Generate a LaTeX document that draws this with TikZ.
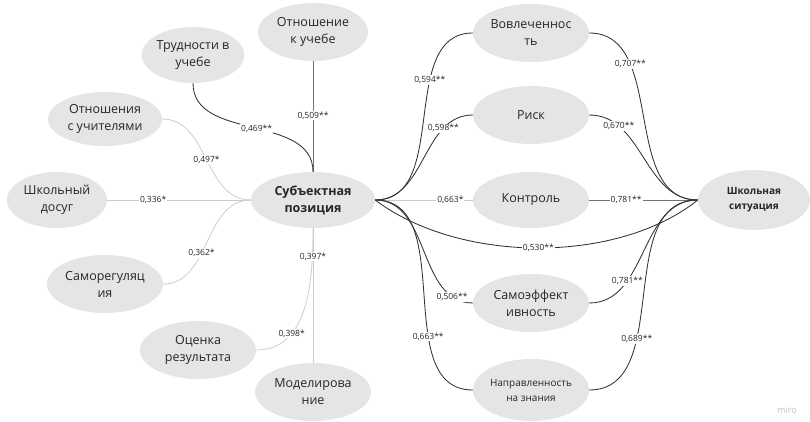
\documentclass[tikz,border=0pt]{standalone}
\usepackage{fontspec}
\setmainfont{Open Sans}
\usetikzlibrary{shapes.geometric}
\begin{document}
\begin{tikzpicture}[x=1pt,y=-1pt,
  el/.style={ellipse, fill=black!10, inner sep=0pt, align=center,
    minimum width=116, minimum height=58, text=black!85,
    font=\fontsize{12.5}{17}\selectfont},
  elb/.style={el, font=\fontsize{12.5}{17}\selectfont\bfseries},
  lbl/.style={fill=white, inner sep=1pt, text=black!85,
    font=\fontsize{8.5}{10}\selectfont},
  dark/.style={draw=black!80, line width=0.85pt},
  mid/.style={draw=black!55, line width=0.85pt},
  light/.style={draw=black!20, line width=0.8pt}]
\useasboundingbox (0,0) rectangle (810,422);

% left side nodes
\node[el, minimum width=110] (ot) at (313,32) {Отношение\\к учебе};
\node[el, minimum width=94, minimum height=56] (tr) at (193,55) {Трудности в\\учебе};
\node[el, minimum width=114, minimum height=54] (ou) at (105,119) {Отношения\\с учителями};
\node[el, minimum width=100, minimum height=56] (dos) at (57,200) {Школьный\\досуг};
\node[elb, minimum width=124, minimum height=56] (sp) at (313,200) {Субъектная\\позиция};
\node[el] (sr) at (105,284) {Саморегуляц\\ия};
\node[el] (oc) at (198,350) {Оценка\\результата};
\node[el] (mod) at (313,392) {Моделирова\\ние};

% right side nodes
\node[el] (vov) at (531,33) {Вовлеченнос\\ть};
\node[el] (risk) at (531,115) {Риск};
\node[el, minimum height=56] (kon) at (531,200) {Контроль};
\node[el] (sam) at (531,303) {Самоэффект\\ивность};
\node[el, minimum height=62, font=\fontsize{10}{15}\selectfont] (nap) at (531,390) {Направленность\\на знания};
\node[elb, minimum width=112, minimum height=60, font=\fontsize{10}{15}\selectfont\bfseries] (ss) at (754,200) {Школьная\\ситуация};

\node[text=black!25, font=\fontsize{9}{10}\selectfont] (miro) at (787,410) {miro};

% left edges
\draw[mid] (ot.south) -- node[lbl,pos=.49]{0,509**} (sp.north);
\draw[dark] (tr.south) to[out=-90,in=90] node[lbl,pos=.52]{0,469**} (sp.north);
\draw[light] (ou.east) to[out=0,in=180] node[lbl,pos=.5]{0,497*} (sp.west);
\draw[light] (dos.east) -- node[lbl,pos=.32]{0,336*} (sp.west);
\draw[light] (sr.east) to[out=0,in=180] node[lbl,pos=.41]{0,362*} (sp.west);
\draw[light] (oc.east) to[out=0,in=-90] node[lbl,pos=.3]{0,398*} (sp.south);
\draw[light] (mod.north) -- node[lbl,pos=.79]{0,397*} (sp.south);

% right edges from Субъектная позиция
\draw[dark] (sp.east) to[out=0,in=180] node[lbl,pos=.65]{0,594**} (vov.west);
\draw[dark] (sp.east) to[out=0,in=180] node[lbl,pos=.75]{0,598**} (risk.west);
\draw[light] (sp.east) -- node[lbl,pos=.77]{0,663*} (kon.west);
\draw[dark] (sp.east) .. controls +(85,64) and +(-80,64) .. node[lbl,pos=.5]{0,530**} (ss.west);
\draw[dark] (sp.east) to[out=0,in=180] node[lbl,pos=.85]{0,506**} (sam.west);
\draw[dark] (sp.east) to[out=0,in=180] node[lbl,pos=.65]{0,663**} (nap.west);

% right edges to Школьная ситуация
\draw[dark] (vov.east) to[out=0,in=180] node[lbl,pos=.275]{0,707**} (ss.west);
\draw[dark] (risk.east) to[out=0,in=180] node[lbl,pos=.225]{0,670**} (ss.west);
\draw[mid] (kon.east) -- node[lbl,pos=.34]{0,781**} (ss.west);
\draw[dark] (sam.east) to[out=0,in=180] node[lbl,pos=.3]{0,781**} (ss.west);
\draw[dark] (nap.east) to[out=0,in=180] node[lbl,pos=.34]{0,689**} (ss.west);
\end{tikzpicture}
\end{document}
